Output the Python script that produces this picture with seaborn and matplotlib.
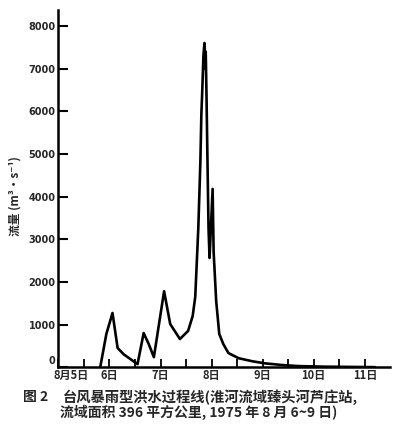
import matplotlib
matplotlib.use("Agg")
import matplotlib.pyplot as plt
import matplotlib.transforms as mtransforms
import seaborn as sns
import pandas as pd

# ---- data ----
day = [5.82, 5.94, 6.06, 6.16, 6.28, 6.41, 6.55, 6.67, 6.77, 6.87,
       7.07, 7.19, 7.38, 7.54, 7.63, 7.68, 7.74, 7.78, 7.80, 7.815,
       7.84, 7.86, 7.87, 7.885, 7.90, 7.92, 7.94, 7.96, 8.02, 8.04,
       8.09, 8.15, 8.23, 8.33, 8.53, 8.79, 9.04, 9.38, 9.71, 10.2,
       10.8, 11.2]
flow = [0, 780, 1270, 450, 300, 190, 70, 800, 540, 235,
        1780, 1010, 660, 850, 1200, 1650, 3260, 4800, 5940, 6400,
        7300, 7600, 7000, 7400, 6400, 4800, 3260, 2560, 4180, 2700,
        1550, 780, 540, 330, 210, 140, 90, 50, 25, 12,
        5, 0]

y_ticks = [0, 1000, 2000, 3000, 4000, 5000, 6000, 7000, 8000]
x_label_pos = [5, 6, 7, 8, 9, 10, 11]
x_labels = ["8月5日", "6日", "7日", "8日", "9日", "10日", "11日"]
x_minor = [5.5, 6.5, 7.5, 8.5, 9.5, 10.5]
y_title = "流量 (m³·s⁻¹)"
fig_no = "图 2"
caption1 = "台风暴雨型洪水过程线(淮河流域臻头河芦庄站,"
caption2 = "流域面积 396 平方公里, 1975 年 8 月 6~9 日)"

df = pd.DataFrame({"day": day, "flow": flow})

sns.set_theme(style="white")
plt.rcParams["font.family"] = ["Noto Sans CJK SC", "DejaVu Sans"]

fig = plt.figure(figsize=(3.97, 4.34), dpi=100)
ax = fig.add_axes([0.147, 0.154, 0.835, 0.823])

sns.lineplot(data=df, x="day", y="flow", sort=False, estimator=None,
             color="black", linewidth=1.9, ax=ax)

ax.set_xlim(5, 11.49)
ax.set_ylim(0, 8375)

for s in ["top", "right"]:
    ax.spines[s].set_visible(False)
for s in ["left", "bottom"]:
    ax.spines[s].set_color("black")
    ax.spines[s].set_linewidth(1.8)

ax.set_yticks(y_ticks)
ax.set_yticklabels([str(v) for v in y_ticks], fontsize=7, fontweight="bold",
                   family=["DejaVu Sans"])
ax.tick_params(axis="y", direction="in", length=7, width=1.5, color="black",
               pad=2, left=True)
# the "0" label sits a little above the baseline in the reference
zero_lbl = ax.get_yticklabels()[0]
zero_lbl.set_transform(zero_lbl.get_transform() +
                       mtransforms.ScaledTranslation(0, 5 / 72, fig.dpi_scale_trans))

ax.set_xticks(x_label_pos)
ax.set_xticklabels(x_labels, fontsize=8, fontweight="bold")
ax.set_xticks(x_minor, minor=True)
ax.tick_params(axis="x", which="both", direction="in", length=6, width=1.3,
               color="black", pad=1, bottom=True)
first_lbl = ax.get_xticklabels()[0]
first_lbl.set_transform(first_lbl.get_transform() +
                        mtransforms.ScaledTranslation(9 / 72, 0, fig.dpi_scale_trans))

ax.set_xlabel("")
ax.set_ylabel(y_title, fontsize=8.5, fontweight="bold")
ax.yaxis.set_label_coords(-0.11, 0.48)

fig.text(23 / 397, 0.085, fig_no, ha="left", va="center", fontsize=10,
         fontweight="bold")
fig.text(63 / 397, 0.085, caption1, ha="left", va="center", fontsize=10.3,
         fontweight="bold")
fig.text(0.50, 0.050, caption2, ha="center", va="center", fontsize=10,
         fontweight="bold")

fig.savefig("out.png", dpi=100, facecolor="white")
